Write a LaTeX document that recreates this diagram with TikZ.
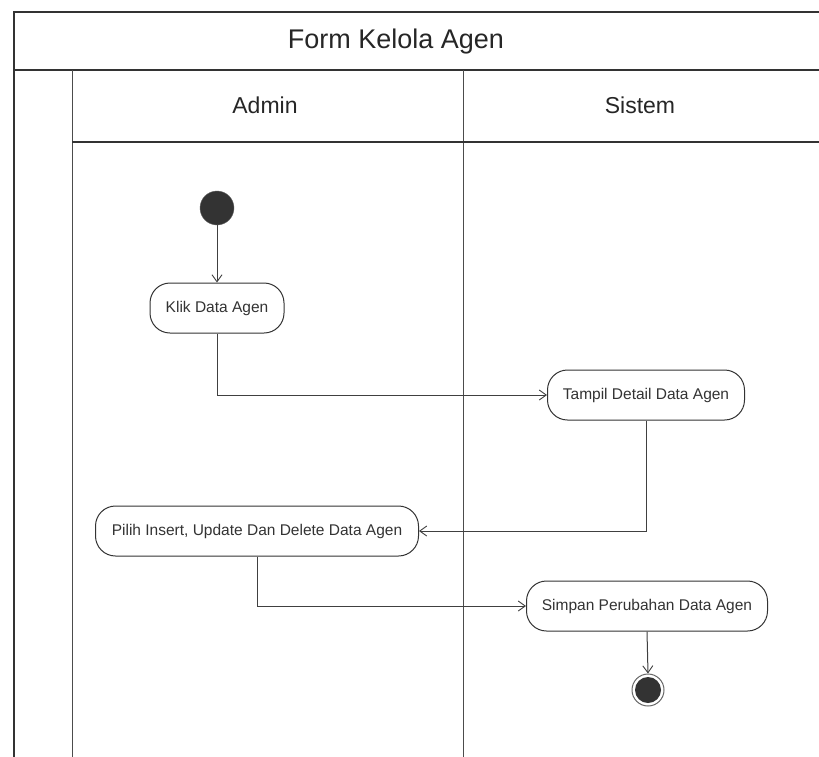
\documentclass[tikz,border=0pt]{standalone}
\usepackage{fontspec}
\setmainfont{Liberation Sans}
\usetikzlibrary{arrows.meta,positioning}
\tikzset{
  act/.style={draw=black!80, line width=1pt, rounded corners=20pt, minimum height=50pt, inner xsep=4pt, font=\fontsize{15.5}{18}\selectfont, text=black!80},
  flow/.style={draw=black!75, line width=1pt, -{Straight Barb[length=7pt,width=10pt,line width=0.9pt]}},
  frame/.style={draw=black!80, line width=1.2pt},
  lane/.style={draw=black!70, line width=1pt}
}
\begin{document}
\begin{tikzpicture}[x=1pt,y=-1pt]
\useasboundingbox (0,0) rectangle (819,756);
\fill[white] (0,0) rectangle (819,756);
\begin{scope}
\clip (0,0) rectangle (819,756);
% frame
\draw[frame] (830,12) -- (14,12) -- (14,770);
\draw[frame] (14,70) -- (830,70);
\draw[lane] (72,70) -- (72,770);
\draw[lane] (463,70) -- (463,770);
\draw[frame] (72,142) -- (830,142);
\end{scope}
\node[font=\fontsize{27}{30}\selectfont, text=black!85] (title) at (396,42) {Form Kelola Agen};
\node[font=\fontsize{23}{26}\selectfont, text=black!85] (admin) at (265,105) {Admin};
\node[font=\fontsize{23}{26}\selectfont, text=black!85] (sistem) at (640,105) {Sistem};
% nodes
\node[circle, fill=black!80, draw=black!60, minimum size=34pt, inner sep=0pt] (start) at (217,208) {};
\node[act, minimum width=134pt] (klik) at (217,308) {Klik Data Agen};
\node[act, minimum width=197pt] (tampil) at (646,395) {Tampil Detail Data Agen};
\node[act, minimum width=323pt] (pilih) at (257,531) {Pilih Insert, Update Dan Delete Data Agen};
\node[act, minimum width=241pt] (simpan) at (647,606) {Simpan Perubahan Data Agen};
\node[circle, draw=black!60, line width=1pt, minimum size=32pt, inner sep=0pt] (end) at (648,690) {};
\node[circle, fill=black!80, minimum size=26pt, inner sep=0pt] (endin) at (end.center) {};
% flows
\draw[flow] (start) -- (klik);
\draw[flow] (klik.south) |- (tampil.west);
\draw[flow] (tampil.south) |- (pilih.east);
\draw[flow] (pilih.south) |- (simpan.west);
\draw[flow] (simpan.south) -- (end.north);
\end{tikzpicture}
\end{document}
